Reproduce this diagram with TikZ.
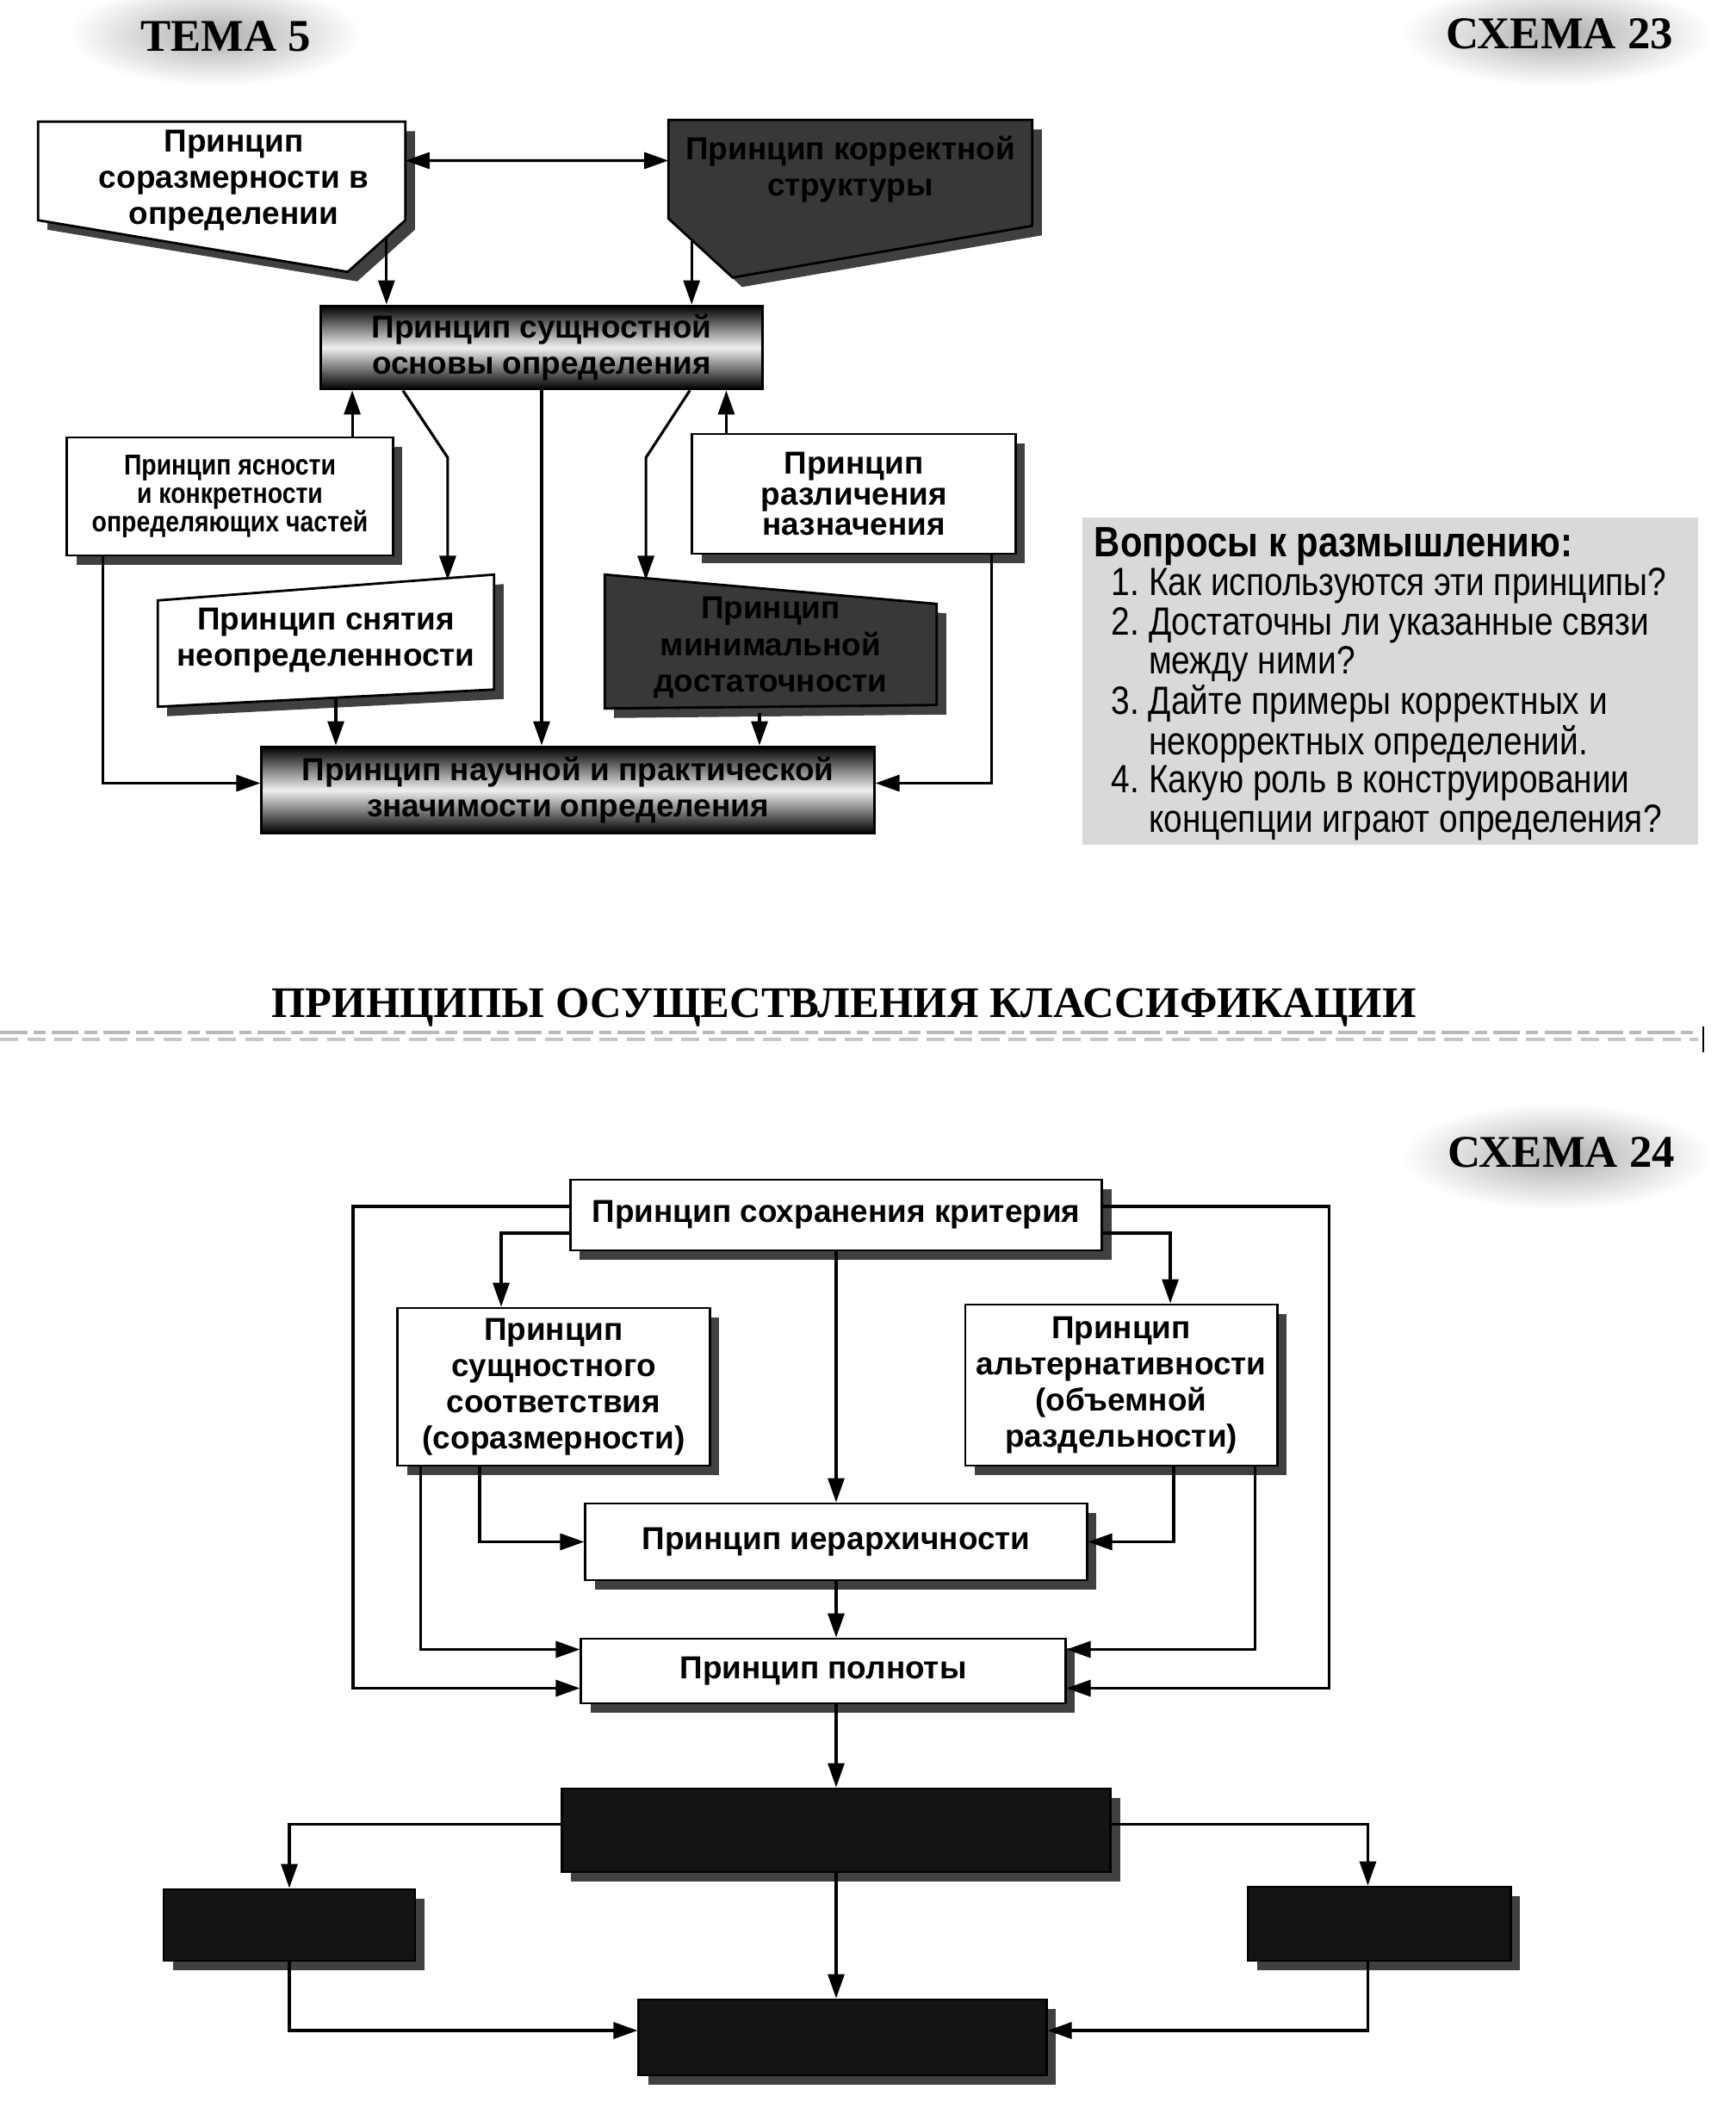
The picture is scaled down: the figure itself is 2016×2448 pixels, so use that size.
\documentclass[tikz,border=0pt]{standalone}
\usepackage{fontspec}
\setmainfont{Liberation Sans}
\newfontfamily\narrowfont{Liberation Sans}[FakeStretch=0.85]
\newfontfamily\headfont{Liberation Serif}
\usetikzlibrary{arrows.meta,positioning,calc,shadows,backgrounds}

\tikzset{
  box/.style={draw,line width=0.8pt,fill=white,align=center,inner sep=1.5pt,
    font=\fontsize{10.5}{12}\selectfont\bfseries},
  blank/.style={align=center,inner sep=1.5pt,font=\fontsize{10.5}{12}\selectfont\bfseries},
  shad/.style={drop shadow={shadow xshift=0.11cm,shadow yshift=-0.11cm,fill=black!75,opacity=1}},
  bandbox/.style={box,top color=black,bottom color=black,middle color=gray!12},
  darkbox/.style={box,fill=black!92,shad},
  poly/.style={line width=0.8pt},
  arr/.style={-{Triangle[length=2.8mm,width=1.9mm]},line width=0.9pt},
  darr/.style={{Triangle[length=2.8mm,width=1.9mm]}-{Triangle[length=2.8mm,width=1.9mm]},line width=0.9pt},
  head/.style={font=\headfont\fontsize{15}{15}\selectfont\bfseries},
}

\begin{document}
\begin{tikzpicture}[x=0.01cm,y=-0.01cm]
\useasboundingbox (0,0) rectangle (2016,2448);

% headers
\shade[inner color=gray!65,outer color=white] (250,40) ellipse [x radius=1.7cm,y radius=0.6cm];
\shade[inner color=gray!65,outer color=white] (1808,40) ellipse [x radius=1.8cm,y radius=0.6cm];
\shade[inner color=gray!65,outer color=white] (1808,1343) ellipse [x radius=1.8cm,y radius=0.62cm];
\node[head] (tema) at (262,42) {ТЕМА 5};
\node[head] (shema23) at (1811,39) {СХЕМА 23};
\node[head] (shema24) at (1813,1338) {СХЕМА 24};

% scheme 23
\node[blank,minimum width=4.25cm,minimum height=1.13cm] (sorazm) at (257.5,198.5) {};
\node[blank] (sorazmtxt) at ([xshift=0.14cm,yshift=-0.11cm]sorazm.center)
  {Принцип\\соразмерности в\\определении};
\node[blank,minimum width=4.21cm,minimum height=1.13cm] (korrekt) at (987.5,196.5)
  {Принцип корректной\\структуры};
\node[bandbox,minimum width=5.12cm,minimum height=0.97cm] (sushch) at (629,403.5)
  {Принцип сущностной\\основы определения};
\node[box,shad,minimum width=3.78cm,minimum height=1.37cm,
  font=\narrowfont\fontsize{9.5}{9.5}\selectfont\bfseries] (yasnost) at (267,576.5)
  {Принцип ясности\\и конкретности\\определяющих частей};
\node[box,shad,minimum width=3.75cm,minimum height=1.39cm,
  font=\fontsize{10.5}{10}\selectfont\bfseries] (razlich) at (991.5,573.5)
  {Принцип\\различения\\назначения};
\node[blank,minimum width=3.89cm,minimum height=1.52cm] (snyat) at (378.5,744)
  {Принцип снятия\\неопределенности};
\node[blank,minimum width=3.84cm,minimum height=1.54cm] (minim) at (895,752)
  {Принцип\\минимальной\\достаточности};
\node[bandbox,minimum width=7.11cm,minimum height=1.01cm] (nauch) at (659.5,917.5)
  {Принцип научной и практической\\значимости определения};

\begin{pgfonlayer}{background}
  \draw[poly,fill=white,shad] (sorazm.north west) -- (sorazm.north east) -- (sorazm.south east)
    -- ++(-67,60) -- (sorazm.south west) -- cycle;
  \draw[poly,fill=black!78,shad] (korrekt.north west) -- (korrekt.north east) -- ++(0,123)
    -- ++(-348,60) -- (korrekt.south west) -- cycle;
  \draw[poly,fill=white,shad] ([yshift=-0.3cm]snyat.north west) -- (snyat.north east)
    -- ([yshift=0.2cm]snyat.south east) -- (snyat.south west) -- cycle;
  \draw[poly,fill=black!78,shad] ([yshift=0.07cm]minim.north west) -- ([yshift=-0.27cm]minim.north east)
    -- ([yshift=0.11cm]minim.south east) -- ([yshift=0.07cm]minim.south west) -- cycle;
\end{pgfonlayer}

\draw[darr] ([yshift=0.12cm]sorazm.east) -- ([yshift=0.1cm]korrekt.west);
\coordinate (a1) at ([xshift=-0.22cm,yshift=-0.2cm]sorazm.south east);
\draw[arr] (a1) -- (a1 |- sushch.north);
\coordinate (b1) at ([xshift=0.27cm,yshift=-0.26cm]korrekt.south west);
\draw[arr] (b1) -- (b1 |- sushch.north);
\coordinate (d1) at ([xshift=1.42cm]yasnost.north);
\draw[arr] (d1) -- (d1 |- sushch.south);
\coordinate (e1) at ([xshift=-1.48cm]razlich.north);
\draw[arr] (e1) -- (e1 |- sushch.south);
\draw[arr] ([xshift=-1.61cm]sushch.south) -- ++(52,78) -- ++(0,142);
\draw[arr] ([xshift=1.72cm]sushch.south) -- ++(-51,78) -- ++(0,142);
\draw[arr] (sushch.south) -- (sushch.south |- nauch.north);
\coordinate (f1) at ([xshift=0.115cm,yshift=0.11cm]snyat.south);
\draw[arr] (f1) -- (f1 |- nauch.north);
\coordinate (g1) at ([xshift=-0.13cm,yshift=0.02cm]minim.south);
\draw[arr] (g1) -- (g1 |- nauch.north);
\draw[arr] ([xshift=-1.47cm]yasnost.south) |- ([yshift=0.08cm]nauch.west);
\draw[arr] ([xshift=1.6cm]razlich.south) |- ([yshift=0.08cm]nauch.east);

% questions
\node[fill=gray!30,minimum width=7.15cm,minimum height=3.8cm,inner sep=0pt] (vopr) at (1614.5,791) {};
\node[anchor=north west,inner sep=0pt,font=\narrowfont\fontsize{13}{12.5}\selectfont] (voprtext)
  at ([xshift=0.14cm,yshift=-0.12cm]vopr.north west)
  {\begin{tabular}{@{\hspace{0.2cm}}r@{\ }l@{}}
   \multicolumn{2}{@{}l@{}}{\fontsize{14}{12.5}\selectfont\bfseries Вопросы к размышлению:}\\
   1.&Как используются эти принципы?\\
   2.&Достаточны ли указанные связи\\
   &между ними?\\
   3.&Дайте примеры корректных и\\
   &некорректных определений.\\
   4.&Какую роль в конструировании\\
   &концепции играют определения?
   \end{tabular}};

% title
\node[font=\headfont\fontsize{14.4}{15}\selectfont\bfseries] (titul) at (980,1170)
  {ПРИНЦИПЫ ОСУЩЕСТВЛЕНИЯ КЛАССИФИКАЦИИ};
\draw[gray!55,line width=1.2pt,dash pattern=on 9pt off 2pt on 4pt off 2pt] (0,1199) -- (1972,1199);
\draw[gray!45,line width=1pt,dash pattern=on 6pt off 3pt] (0,1207) -- (1972,1207);
\draw[line width=0.8pt] (1978,1192) -- (1978,1222);

% scheme 24
\node[box,shad,minimum width=6.17cm,minimum height=0.82cm] (sohr) at (971,1411)
  {Принцип сохранения критерия};
\node[box,shad,minimum width=3.62cm,minimum height=1.83cm] (sushchsoot) at (643,1610.5)
  {Принцип\\сущностного\\соответствия\\(соразмерности)};
\node[box,shad,minimum width=3.62cm,minimum height=1.87cm] (alter) at (1302,1608.5)
  {Принцип\\альтернативности\\(объемной\\раздельности)};
\node[box,shad,minimum width=5.82cm,minimum height=0.89cm] (ierarh) at (971,1790.5)
  {Принцип иерархичности};
\node[box,shad,minimum width=5.62cm,minimum height=0.75cm] (polnota) at (956,1940.5)
  {Принцип полноты};
\node[darkbox,minimum width=6.37cm,minimum height=0.97cm] (klass) at (971,2125.5) {};
\node[darkbox,minimum width=2.92cm,minimum height=0.83cm] (levyj) at (336,2235.5) {};
\node[darkbox,minimum width=3.05cm,minimum height=0.86cm] (pravyj) at (1601.5,2234) {};
\node[darkbox,minimum width=4.73cm,minimum height=0.88cm] (itog) at (978.5,2366) {};

\draw[arr] ([yshift=-0.21cm]sohr.west) -| ([xshift=-0.61cm]sushchsoot.north);
\draw[arr] ([yshift=-0.21cm]sohr.east) -| ([xshift=0.57cm]alter.north);
\draw[arr] (sohr.south) -- (sohr.south |- ierarh.north);
\draw[arr] ([yshift=0.1cm]sohr.west) -- ++(-251,0) |- ([yshift=-0.2cm]polnota.west);
\draw[arr] ([yshift=0.1cm]sohr.east) -- ++(262,0) |- ([yshift=-0.2cm]polnota.east);
\draw[arr] ([xshift=-0.86cm]sushchsoot.south) |- (ierarh.west);
\draw[arr] ([xshift=-1.54cm]sushchsoot.south) |- ([yshift=0.25cm]polnota.west);
\draw[arr] ([xshift=0.61cm]alter.south) |- (ierarh.east);
\draw[arr] ([xshift=1.55cm]alter.south) |- ([yshift=0.25cm]polnota.east);
\draw[arr] (ierarh.south) -- (ierarh.south |- polnota.north);
\draw[arr] (klass.north |- polnota.south) -- (klass.north);
\draw[arr] ([yshift=0.07cm]klass.west) -| (levyj.north);
\draw[arr] ([yshift=0.07cm]klass.east) -| ([xshift=-0.13cm]pravyj.north);
\draw[arr] (klass.south) -- (klass.south |- itog.north);
\draw[arr] (levyj.south) |- ([yshift=0.08cm]itog.west);
\draw[arr] ([xshift=-0.13cm]pravyj.south) |- ([yshift=0.08cm]itog.east);
\end{tikzpicture}
\end{document}
